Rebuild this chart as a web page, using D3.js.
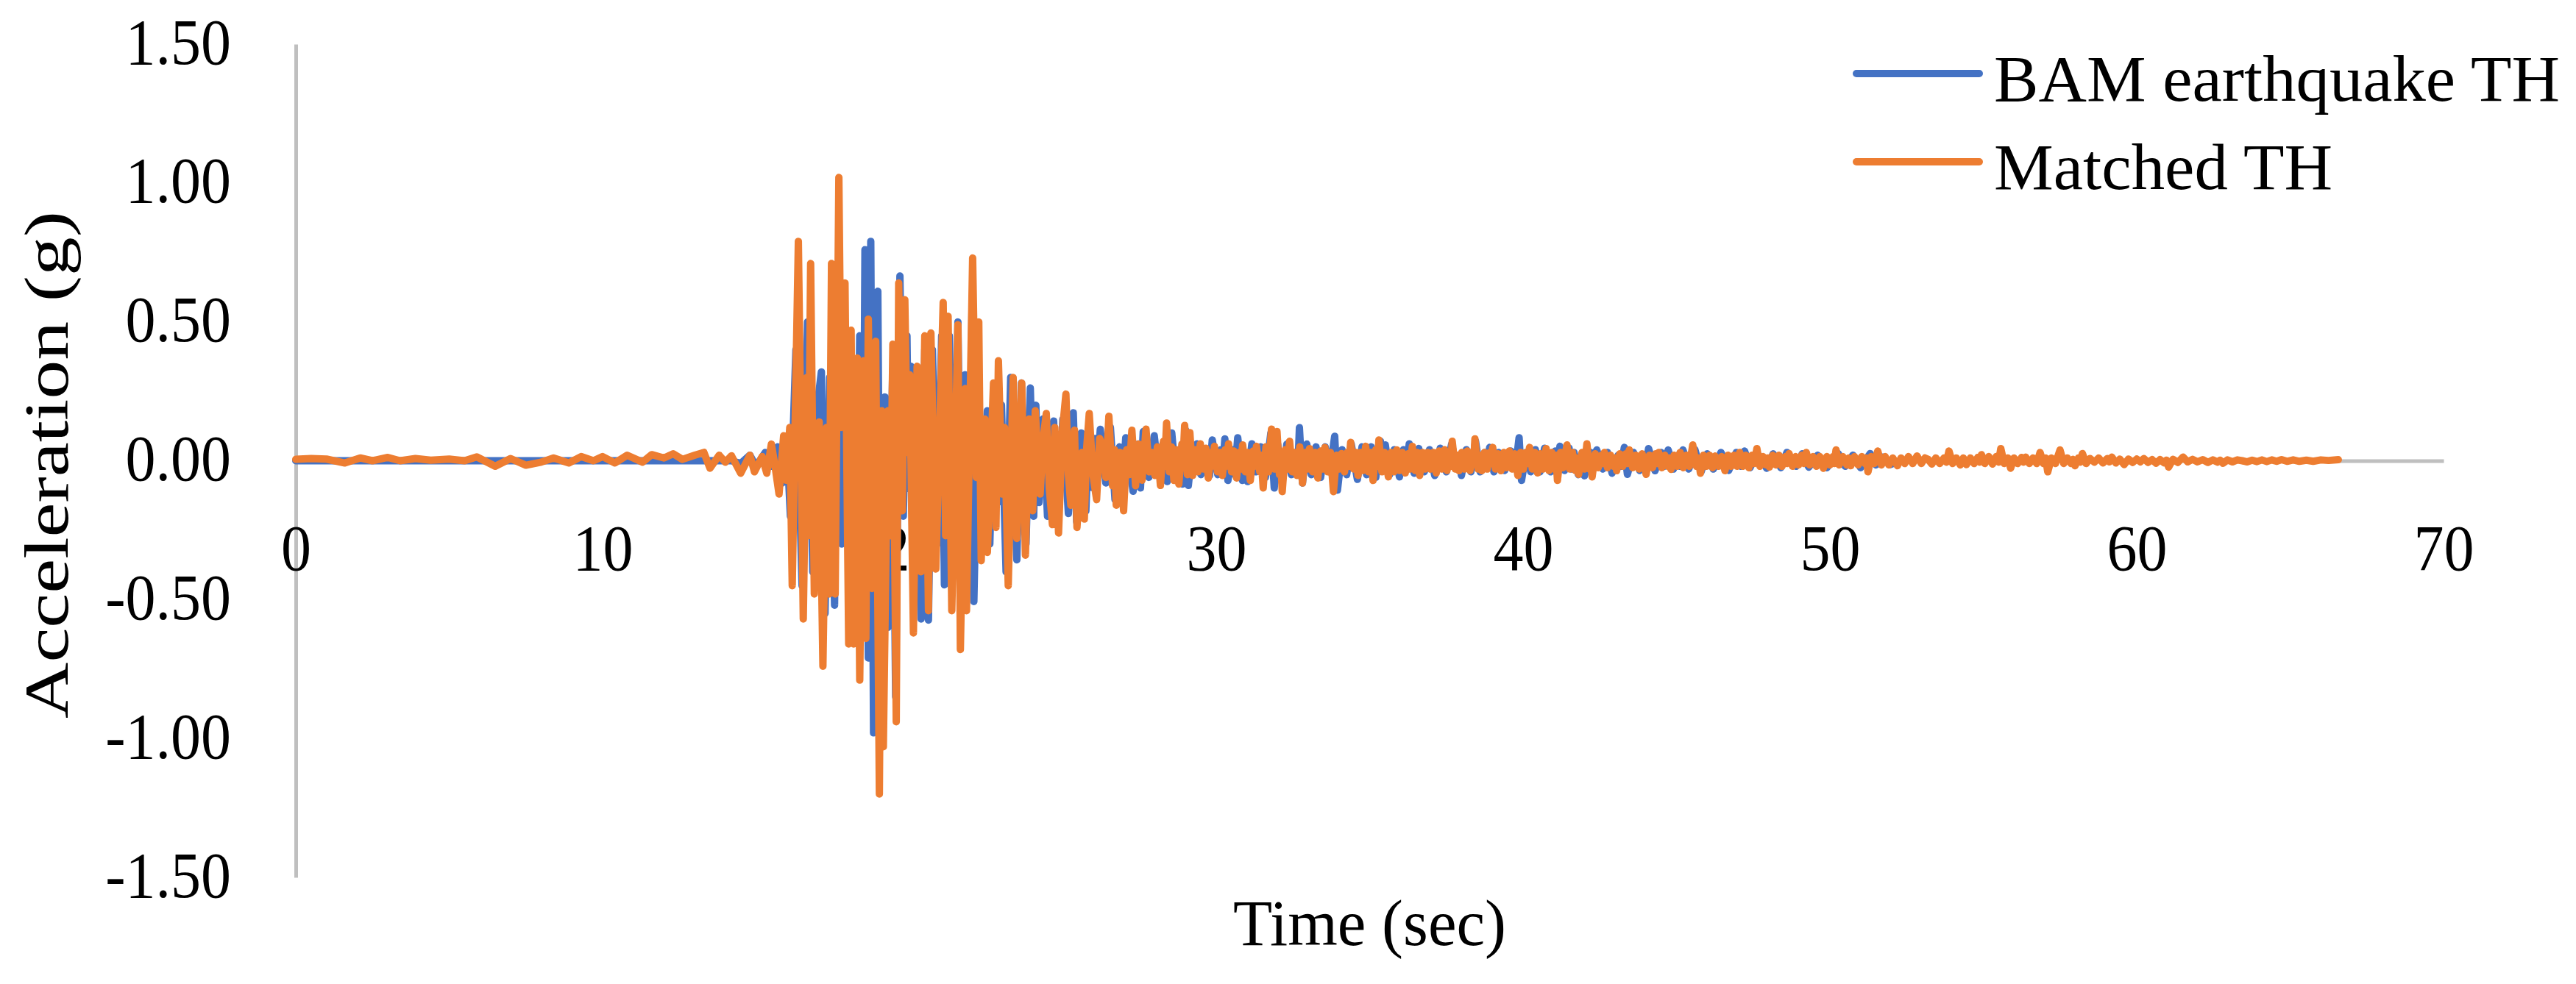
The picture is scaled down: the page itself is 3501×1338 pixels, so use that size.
<!DOCTYPE html>
<html>
<head>
<meta charset="utf-8">
<script src="https://cdn.jsdelivr.net/npm/d3@7"></script>
<style>
  html, body { margin: 0; padding: 0; background: #ffffff; }
  svg { display: block; }
  text { font-family: "Liberation Serif", "DejaVu Serif", serif; fill: #000; }
</style>
</head>
<body>
<svg id="chart" width="3501" height="1338"></svg>
<script>
// ---------------- DATA ----------------
const xTicks = [0, 10, 20, 30, 40, 50, 60, 70];
const xTickLabels = ["0", "10", "20", "30", "40", "50", "60", "70"];
const yTicks = [-1.5, -1.0, -0.5, 0.0, 0.5, 1.0, 1.5];
const yTickLabels = ["-1.50", "-1.00", "-0.50", "0.00", "0.50", "1.00", "1.50"];
const seriesNames = ["BAM earthquake TH", "Matched TH"];
const seriesColors = ["#4472C4", "#ED7D31"];
const xTitle = "Time (sec)";
const yTitle = "Acceleration (g)";

// BAM earthquake record [time (s), acceleration (g)]
const bamSeries = [
  [0,0],[14.2,0],[14.5,-0.01],[14.8,0.02],[15.0,-0.02],[15.3,0.03],[15.5,-0.02],[15.7,0.05],[15.85,-0.08],
  [16.0,0.08],[16.12,-0.2],[16.3,0.4],[16.5,-0.45],[16.68,0.5],[16.85,-0.4],[17.0,0.2],[17.13,0.32],
  [17.25,-0.55],[17.4,0.3],[17.56,-0.52],[17.65,0.6],[17.8,-0.3],[17.95,0.4],[18.04,-0.46],[18.15,0.3],
  [18.28,-0.5],[18.38,0.45],[18.48,-0.6],[18.55,0.76],[18.66,-0.71],[18.74,0.79],[18.83,-0.98],[18.97,0.61],
  [19.06,-0.9],[19.2,0.23],[19.3,-0.6],[19.45,0.3],[19.55,-0.85],[19.69,0.665],[19.8,-0.2],[19.92,0.45],
  [19.98,-0.1],[20.05,0.34],[20.15,-0.5],[20.25,0.3],[20.38,-0.57],[20.5,0.4],[20.62,-0.574],[20.75,0.4],
  [20.9,-0.3],[21.05,0.45],[21.14,-0.447],[21.3,0.45],[21.45,-0.4],[21.58,0.5],[21.7,-0.5],[21.82,0.31],
  [21.95,-0.3],[22.04,0.55],[22.1,-0.507],[22.25,0.3],[22.4,-0.3],[22.54,0.18],[22.62,-0.3],[22.75,0.25],
  [22.88,-0.15],[23.0,0.2],[23.15,-0.4],[23.3,0.3],[23.5,-0.357],[23.65,0.28],[23.8,-0.3],[23.94,0.262],
  [24.05,-0.2],[24.12,0.2],[24.22,-0.15],[24.35,0.15],[24.5,-0.2],[24.7,0.143],[24.85,-0.22],[25.0,0.15],
  [25.18,-0.19],[25.34,0.173],[25.45,-0.22],[25.6,0.1],[25.75,-0.18],[25.85,0.12],[25.94,-0.096],[26.05,0.08],
  [26.12,-0.05],[26.22,0.113],[26.4,-0.08],[26.55,0.12],[26.7,-0.14],[26.85,0.05],[26.95,-0.1],[27.05,0.083],
  [27.29,-0.11],[27.45,0.06],[27.53,-0.098],[27.62,0.105],[27.8,-0.06],[27.98,0.09],[28.12,-0.05],[28.26,0.06],
  [28.4,-0.075],[28.55,0.1],[28.68,-0.06],[28.81,0.04],[28.9,-0.084],[29.0,0.11],[29.09,-0.089],[29.22,0.05],
  [29.3,-0.03],[29.37,0.061],[29.5,-0.05],[29.65,0.04],[29.78,-0.053],[29.87,0.075],[30.05,-0.05],[30.15,0.04],
  [30.22,-0.02],[30.28,0.079],[30.38,-0.071],[30.52,0.04],[30.6,-0.05],[30.7,0.083],[30.85,-0.071],[30.93,0.03],[31.02,-0.075],
  [31.16,0.061],[31.3,-0.04],[31.45,0.05],[31.6,-0.06],[31.78,0.1],[31.89,-0.098],[32.0,0.06],[32.15,-0.08],
  [32.3,0.06],[32.45,-0.05],[32.6,0.03],[32.66,-0.03],[32.71,0.119],[32.81,-0.08],[32.95,0.06],[33.1,-0.05],[33.25,0.05],
  [33.4,-0.06],[33.55,0.05],[33.7,-0.04],[33.86,0.088],[33.95,-0.106],[34.1,0.04],[34.25,-0.05],[34.4,0.06],
  [34.6,-0.067],[34.75,0.05],[34.9,-0.05],[35.05,0.05],[35.2,-0.06],[35.35,0.07],[35.43,-0.03],[35.51,0.057],
  [35.65,-0.05],[35.8,0.04],[35.97,-0.058],[36.1,0.04],[36.2,-0.02],[36.29,0.061],[36.45,-0.045],[36.6,0.044],
  [36.78,-0.04],[36.95,0.04],[37.12,-0.053],[37.3,0.045],[37.5,-0.04],[37.67,0.06],[37.85,-0.03],[37.92,0.02],
  [37.99,-0.053],[38.15,0.04],[38.3,-0.04],[38.45,0.07],[38.6,-0.04],[38.75,0.03],[38.83,-0.02],[38.91,0.048],
  [39.05,-0.04],[39.2,0.03],[39.4,-0.035],[39.6,0.035],[39.75,-0.03],[39.87,0.083],[39.95,-0.071],[40.1,0.03],
  [40.25,-0.04],[40.4,0.04],[40.55,-0.04],[40.7,0.045],[40.9,-0.04],[41.05,0.035],[41.12,-0.05],[41.2,0.052],
  [41.35,-0.035],[41.5,0.045],[41.58,-0.03],[41.66,0.03],[41.8,-0.05],[41.9,0.02],[42.0,-0.054],[42.2,0.03],
  [42.3,-0.02],[42.4,0.039],[42.6,-0.03],[42.75,0.03],[42.9,-0.045],[43.1,0.02],[43.2,-0.02],[43.3,0.048],[43.4,-0.049],
  [43.6,0.03],[43.8,-0.035],[43.95,0.02],[44.0,-0.02],[44.09,0.044],[44.3,-0.036],[44.5,0.03],[44.6,-0.02],[44.73,0.039],[44.9,-0.03],
  [45.05,0.02],[45.12,-0.02],[45.21,0.039],[45.4,-0.03],[45.6,0.04],[45.8,-0.04],[46.0,0.025],[46.2,-0.03],[46.45,0.03],
  [46.7,-0.035],[46.95,0.03],[47.1,-0.02],[47.22,0.035],[47.4,-0.025],[47.6,0.03],[47.75,0.01],[47.94,-0.027],
  [48.15,0.025],[48.4,-0.025],[48.6,0.03],[48.9,-0.02],[49.1,0.025],[49.31,-0.023],[49.6,0.02],[49.9,-0.025],
  [50.1,0.0],[50.27,0.026],[50.5,-0.02],[50.75,0.02],[51.0,-0.025],[51.31,0.026],[51.5,-0.015],[51.72,0.013],
  [51.96,-0.014],[52.3,0.0]
];

// Matched time history [time (s), acceleration (g)]
const matchedSeries = [
  [0,0.005],[0.5,0.008],[1.0,0.006],[1.6,-0.008],[2.1,0.01],[2.5,0.0],[3.0,0.012],[3.4,0.0],[3.9,0.008],
  [4.4,0.002],[5.0,0.006],[5.5,0.0],[5.9,0.014],[6.5,-0.02],[7.0,0.008],[7.5,-0.016],[8.0,-0.005],[8.4,0.01],
  [8.9,-0.008],[9.3,0.015],[9.7,0.0],[10.0,0.015],[10.4,-0.008],[10.8,0.02],[11.3,-0.005],[11.6,0.022],
  [12.0,0.01],[12.3,0.025],[12.6,0.005],[13.0,0.02],[13.3,0.03],[13.5,-0.027],[13.8,0.02],[14.0,-0.005],
  [14.2,0.018],[14.5,-0.045],[14.8,0.02],[14.95,-0.04],[15.2,0.015],[15.35,-0.045],[15.5,0.06],[15.62,-0.02],
  [15.75,-0.12],[15.9,0.09],[15.98,-0.07],
  [16.10,0.12],[16.18,-0.45],[16.38,0.79],[16.54,-0.57],[16.66,0.30],[16.70,-0.27],[16.78,0.71],[16.90,-0.48],
  [17.06,0.14],[17.18,-0.74],[17.30,0.12],[17.38,-0.48],[17.46,0.71],[17.58,-0.48],[17.70,1.02],[17.78,0.12],
  [17.90,0.64],[18.02,-0.66],[18.10,0.47],[18.18,-0.66],[18.30,0.37],[18.38,-0.79],[18.50,0.36],[18.58,-0.64],
  [18.66,0.51],[18.78,-0.46],[18.90,0.43],[19.02,-1.20],[19.10,0.18],[19.15,-1.03],[19.30,0.18],[19.38,-0.27],
  [19.46,0.42],[19.57,-0.94],[19.65,0.64],[19.77,-0.18],[19.85,0.58],[19.93,0.03],[20.01,0.31],[20.13,-0.62],
  [20.25,0.34],[20.38,-0.4],
  [20.50,0.45],[20.62,-0.54],[20.70,0.46],[20.86,-0.39],[21.10,0.57],[21.18,-0.27],[21.26,0.52],[21.38,-0.54],
  [21.58,0.49],[21.66,-0.68],[21.82,0.26],[21.86,-0.54],[22.06,0.73],[22.18,-0.06],[22.26,0.50],[22.34,-0.36],
  [22.46,0.15],[22.54,-0.33],[22.74,0.28],[22.82,-0.24],[22.90,0.36],[23.02,-0.12],[23.10,0.12],[23.22,-0.45],
  [23.38,0.30],[23.50,-0.28],[23.66,0.28],[23.78,-0.34],[23.90,0.15],[24.02,-0.18],[24.10,0.18],[24.26,-0.12],
  [24.36,0.08],[24.46,0.17],[24.56,-0.1],[24.66,-0.23],[24.74,0.12],[24.86,-0.26],[24.98,0.1],[25.10,0.24],[25.18,-0.05],[25.26,-0.16],[25.38,0.11],[25.46,-0.24],
  [25.62,0.03],[25.70,-0.21],[25.78,0.05],[25.86,0.17],[25.98,-0.05],[26.10,-0.14],[26.20,0.08],[26.30,0.05],[26.40,-0.06],[26.50,0.16],[26.62,-0.09],[26.68,0.04],[26.74,-0.16],
  [26.86,0.03],[26.98,-0.18],[27.08,0.04],[27.16,-0.05],[27.25,0.11],[27.37,-0.09],
  [27.47,0.06],[27.58,-0.07],[27.71,0.114],[27.82,-0.04],[27.90,0.03],[28.00,-0.053],[28.08,0.05],[28.18,-0.089],
  [28.28,0.07],[28.32,-0.02],[28.38,0.136],[28.47,-0.04],[28.54,0.05],[28.62,-0.071],[28.70,0.04],[28.78,-0.084],
  [28.88,0.06],[28.91,-0.02],[28.97,0.127],[29.06,-0.05],[29.14,0.101],[29.23,-0.053],[29.32,0.04],[29.40,-0.04],
  [29.48,0.061],[29.58,-0.03],[29.66,0.045],[29.74,-0.062],[29.83,0.03],[29.87,-0.02],[29.94,0.052],[30.04,-0.04],
  [30.12,0.03],[30.20,-0.053],[30.29,0.04],[30.33,-0.02],[30.40,0.061],[30.50,-0.04],[30.57,0.035],[30.66,-0.062],
  [30.75,0.03],[30.79,-0.03],[30.86,0.057],[30.95,-0.04],[31.02,0.03],[31.11,-0.071],[31.20,0.035],[31.25,-0.02],
  [31.31,0.052],[31.42,-0.04],[31.46,0.02],[31.53,-0.098],[31.62,0.05],[31.70,-0.04],[31.80,0.114],[31.89,-0.03],
  [31.98,0.105],[32.06,-0.05],[32.10,0.02],[32.15,-0.111],[32.25,0.04],[32.32,-0.03],[32.39,0.070],[32.48,-0.04],
  [32.55,0.03],[32.63,-0.053],[32.72,0.05],[32.81,-0.080],[32.90,0.03],[32.97,-0.03],[33.04,0.044],[33.14,-0.04],
  [33.22,0.03],[33.31,-0.062],[33.40,0.035],[33.47,-0.03],[33.54,0.048],[33.63,-0.04],[33.72,0.03],[33.82,-0.111],
  [33.92,0.02],[34.00,-0.03],[34.08,0.026],[34.18,-0.04],[34.27,0.03],[34.32,-0.02],[34.38,0.066],[34.48,-0.03],
  [34.55,0.03],[34.62,-0.053],[34.70,0.03],[34.78,-0.035],[34.87,0.052],[34.96,-0.04],[35.03,0.03],[35.11,-0.071],
  [35.20,0.04],[35.25,-0.02],[35.30,0.075],[35.40,-0.04],[35.48,0.03],[35.61,-0.058],[35.70,0.03],[35.79,-0.04],
  [35.88,0.039],[35.97,-0.035],[36.06,0.03],[36.16,-0.044],[36.25,0.025],[36.32,-0.03],[36.39,0.052],[36.48,-0.035],
  [36.55,0.03],[36.63,-0.053],[36.72,0.03],[36.80,-0.03],[36.89,0.030],[36.98,-0.03],[37.07,0.03],[37.17,-0.044],
  [37.26,0.035],[37.35,-0.03],[37.44,0.04],[37.52,-0.035],[37.60,0.03],[37.64,-0.02],[37.69,0.070],[37.79,-0.03],
  [37.85,0.02],[37.91,-0.036],[38.00,0.03],[38.09,-0.03],[38.18,0.035],[38.27,-0.035],[38.35,0.03],[38.39,-0.01],
  [38.43,0.079],[38.53,-0.03],[38.58,0.02],[38.65,-0.036],[38.74,0.03],[38.83,-0.03],[38.92,0.03],[38.96,-0.01],
  [39.01,0.048],[39.10,-0.03],[39.19,0.025],[39.28,-0.036],[39.37,0.03],[39.46,-0.025],[39.55,0.035],[39.64,-0.03],
  [39.73,0.025],[39.83,-0.053],[39.92,0.03],[40.01,-0.03],[40.10,0.03],[40.15,-0.01],[40.21,0.048],[40.30,-0.03],
  [40.38,0.03],[40.47,-0.044],[40.56,0.025],[40.65,-0.03],[40.75,0.044],[40.84,-0.035],[40.93,0.03],[41.02,-0.03],
  [41.07,0.02],[41.12,-0.071],[41.22,0.03],[41.30,-0.025],[41.43,0.057],[41.52,-0.03],[41.61,0.03],[41.70,-0.035],
  [41.75,0.01],[41.81,-0.049],[41.92,0.03],[42.00,-0.03],[42.08,0.061],[42.16,-0.03],[42.20,0.01],[42.25,-0.058],
  [42.35,0.025],[42.45,-0.025],[42.55,0.02],[42.60,-0.01],[42.65,0.030],[42.75,-0.025],[42.85,0.02],[42.95,-0.02],
  [43.00,0.01],[43.05,-0.036],[43.15,0.025],[43.25,-0.02],[43.35,0.025],[43.40,-0.01],[43.46,0.039],[43.57,-0.025],
  [43.67,0.02],[43.78,-0.03],[43.88,0.025],[44.01,-0.049],[44.12,0.02],[44.22,-0.025],[44.32,0.025],[44.37,-0.01],
  [44.42,0.030],[44.52,-0.025],[44.62,0.02],[44.71,-0.02],[44.76,0.01],[44.82,-0.031],[44.92,0.02],[45.02,-0.02],
  [45.12,0.03],[45.22,-0.025],[45.32,0.02],[45.42,-0.02],[45.53,0.057],[45.65,-0.02],[45.71,0.01],[45.78,-0.045],
  [45.88,0.02],[45.98,-0.02],[46.08,0.02],[46.18,-0.025],[46.26,0.017],[46.37,-0.02],[46.47,0.015],[46.58,-0.036],
  [46.68,0.02],[46.78,-0.02],[46.88,0.02],[46.97,-0.02],[47.06,0.030],[47.16,-0.02],[47.26,0.02],[47.36,-0.025],
  [47.46,0.02],[47.54,-0.01],[47.62,0.044],[47.72,-0.02],[47.82,0.015],[47.92,-0.015],[47.97,0.01],[48.03,-0.023],
  [48.14,0.02],[48.24,-0.015],[48.34,0.02],[48.44,-0.02],[48.55,0.015],[48.60,-0.01],[48.67,0.026],[48.78,-0.02],
  [48.88,0.015],[48.98,-0.015],[49.08,0.02],[49.16,-0.01],[49.23,0.030],[49.34,-0.015],[49.45,0.015],[49.56,-0.02],
  [49.67,0.015],[49.79,-0.027],[49.90,0.015],[50.00,-0.015],[50.10,0.015],[50.14,-0.01],[50.20,0.039],[50.30,-0.015],
  [50.42,0.015],[50.55,-0.015],[50.61,0.01],[50.68,-0.018],[50.80,0.015],[50.92,-0.015],[51.04,0.015],[51.14,-0.01],
  [51.19,0.01],[51.24,-0.040],[51.35,0.015],[51.45,-0.01],[51.56,0.035],[51.68,-0.015],[51.80,0.015],[51.92,-0.015],
  [52.05,0.01],[52.20,-0.018],[52.32,0.01],[52.44,-0.01],[52.56,0.015],[52.70,-0.01],[52.84,0.017],[52.98,-0.01],
  [53.10,0.01],[53.20,0.005],[53.32,-0.012],[53.45,0.01],[53.58,-0.01],[53.72,0.01],[53.80,-0.005],[53.88,0.035],
  [54.00,-0.01],[54.12,0.01],[54.25,-0.015],[54.35,0.01],[54.45,-0.014],[54.58,0.01],[54.70,-0.01],[54.82,0.012],
  [54.88,-0.005],[54.94,0.022],[55.05,-0.01],[55.18,0.015],[55.30,-0.012],[55.42,0.015],[55.50,-0.005],[55.57,0.044],
  [55.68,-0.01],[55.80,0.01],[55.89,-0.027],[56.00,0.01],[56.12,-0.01],[56.25,0.012],[56.31,-0.005],[56.38,0.013],
  [56.50,-0.01],[56.62,0.01],[56.74,-0.01],[56.85,0.030],[56.96,-0.01],[57.03,0.01],[57.10,-0.040],[57.22,0.01],
  [57.35,-0.01],[57.50,0.039],[57.62,-0.01],[57.74,0.01],[57.86,-0.01],[57.92,0.005],[57.99,-0.018],[58.10,0.01],
  [58.16,-0.005],[58.23,0.026],[58.35,-0.01],[58.48,0.008],[58.62,-0.005],[58.76,0.01],[58.90,-0.008],[59.04,0.008],
  [59.11,-0.004],[59.19,0.013],[59.32,-0.008],[59.45,0.006],[59.59,-0.014],[59.73,0.006],[59.87,-0.006],[60.00,0.006],
  [60.12,-0.004],[60.23,0.008],[60.37,-0.006],[60.50,0.004],[60.63,-0.009],[60.76,0.004],[60.90,-0.008],[60.97,0.002],
  [61.04,-0.023],[61.18,0.005],[61.34,-0.006],[61.51,0.013],[61.66,-0.004],[61.82,0.005],[61.98,-0.004],[62.15,0.004],
  [62.32,-0.006],[62.48,0.003],[62.64,-0.005],[62.72,0.002],[62.81,-0.009],[62.96,0.003],[63.12,-0.004],[63.28,0.003],
  [63.44,0.0],[63.60,-0.004],[63.76,0.002],[63.92,-0.003],[64.08,0.003],[64.24,-0.003],[64.40,0.003],[64.56,-0.002],
  [64.72,0.004],[64.90,-0.002],[65.10,0.003],[65.30,-0.002],[65.53,0.002],[65.75,-0.002],[66.00,0.003],[66.25,0.001],
  [66.57,0.004]
];

// ---------------- CHART ----------------
const svg = d3.select("#chart");
svg.append("rect").attr("width", 3501).attr("height", 1338).attr("fill", "#ffffff");

const x = d3.scaleLinear().domain([0, 70]).range([402, 3321]);
const y = d3.scaleLinear().domain([-1.5, 1.5]).range([1193, 60]);

const FONT = 82;
const SY = 1.08;
const axisColor = "#bfbfbf";

// Y axis
const yAxisG = svg.append("g").attr("transform", `translate(${x(0)},0)`)
  .call(d3.axisLeft(y).tickValues(yTicks).tickSize(0).tickSizeOuter(0)
    .tickFormat((d, i) => yTickLabels[i]));
yAxisG.select(".domain").attr("stroke", axisColor).attr("stroke-width", 5);
yAxisG.selectAll(".tick text")
  .attr("font-family", "Liberation Serif").attr("font-size", FONT)
  .attr("x", -88).attr("dy", null).attr("y", 26 / SY)
  .attr("transform", `scale(1,${SY})`).attr("fill", "#000");

// X axis (at y = 0)
const xAxisG = svg.append("g").attr("transform", `translate(0,${y(0)})`)
  .call(d3.axisBottom(x).tickValues(xTicks).tickSize(0).tickSizeOuter(0)
    .tickFormat((d, i) => xTickLabels[i]));
xAxisG.select(".domain").attr("stroke", axisColor).attr("stroke-width", 5);
xAxisG.selectAll(".tick text")
  .attr("font-family", "Liberation Serif").attr("font-size", FONT)
  .attr("dy", null).attr("y", 148.5 / SY)
  .attr("transform", `scale(1,${SY})`).attr("fill", "#000");

// Series
const line = d3.line().x(d => x(d[0])).y(d => y(d[1]));
[bamSeries, matchedSeries].forEach((s, i) => {
  svg.append("path").datum(s)
    .attr("d", line)
    .attr("fill", "none")
    .attr("stroke", seriesColors[i])
    .attr("stroke-width", 10)
    .attr("stroke-linejoin", "round")
    .attr("stroke-linecap", "round");
});

// helper for slightly stretched text
function label(txt, tx, ty, opts) {
  const g = svg.append("g").attr("transform", `translate(${tx},${ty})${opts.rotate ? " rotate(-90)" : ""} scale(1,${SY})`);
  const t = g.append("text").text(txt)
    .attr("font-family", "Liberation Serif")
    .attr("font-size", opts.size || FONT)
    .attr("text-anchor", opts.anchor || "start");
  if (opts.len) t.attr("textLength", opts.len).attr("lengthAdjust", "spacingAndGlyphs");
  return t;
}

// Legend
const legendY = [100, 220];
const legendBase = [137, 257];
const legendLens = [769, 460];
seriesNames.forEach((n, i) => {
  svg.append("line")
    .attr("x1", 2523).attr("x2", 2690)
    .attr("y1", legendY[i]).attr("y2", legendY[i])
    .attr("stroke", seriesColors[i]).attr("stroke-width", 10)
    .attr("stroke-linecap", "round");
  label(n, 2710, legendBase[i], { len: legendLens[i] });
});

// Axis titles
label(xTitle, (x(0) + x(70)) / 2, 1285, { anchor: "middle", len: 371 });
label(yTitle, 92, 632, { anchor: "middle", rotate: true, len: 690, size: 78 });
</script>
</body>
</html>
